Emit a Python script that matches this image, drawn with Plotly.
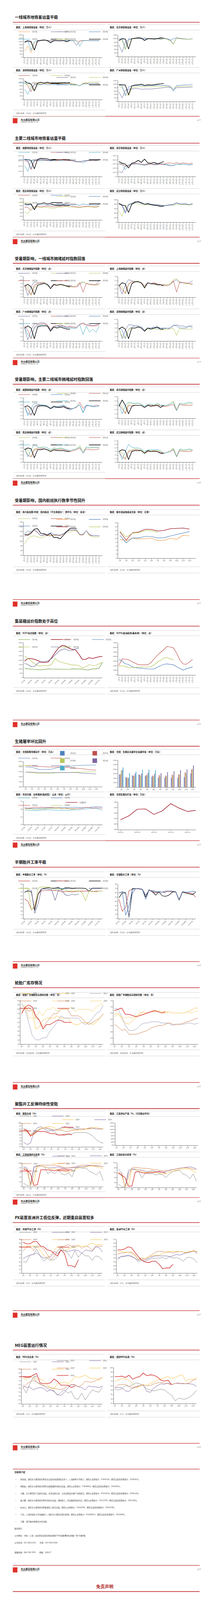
import plotly.graph_objects as go

W, H = 550, 4333
FONT = "Noto Sans CJK SC"

GRAY = "#8c8c8c"; PURP = "#8064a2"; SLATE = "#6b6f9a"; BLUE = "#4f81bd"; TEAL = "#4bacc6"
RED = "#c0504d"; DRED = "#a01c2c"; YG = "#b5c95a"; ORG = "#f0a050"; YEL = "#f5c242"
BRN = "#d08050"; BLK = "#000000"; BRED = "#d02020"; GRN = "#70a040"

DAY_TICKS = ["1月1日", "1月16日", "1月31日", "2月15日", "3月2日", "3月17日", "4月1日", "4月16日",
             "5月1日", "5月16日", "5月31日", "6月15日", "6月30日", "7月15日", "7月30日", "8月14日",
             "8月29日", "9月13日", "9月28日", "10月13日", "10月28日", "11月12日", "11月27日", "12月12日"]
MONTHS = ["1月", "2月", "3月", "4月", "5月", "6月", "7月", "8月", "9月", "10月", "11月", "12月"]
HOG_TICKS = ["2024-03", "2024-06", "2024-09", "2024-12", "2025-03", "2025-06", "2025-09", "2025-12", "2026-03", "2026-06"]

# ---- page 17: first-tier subway ----
sh23 = [400, 720, 300, 900, 1000, 1050, 1050, 1080, 1040, 1060, 1050, 1040, 1060, 1050, 1060, 1050, 1040, 980, 1060, 1050, 1060, 1050, 1040, 1050]
sh24 = [950, 1000, 950, 480, 1000, 1050, 1080, 1080, 1050, 1060, 1050, 1050, 1060, 1050, 1060, 1040, 750, 1050, 1060, 1070, 1060, 1050, 1060, 1050]
sh25 = [1000, 1050, 450, 1000, 1050, 1060, 1080, 1070, 950, 1050, 1050, 1040, 1060, 1050, 1050, 1060, 1050, 700, 1050, 1060, 1050, 1060, 1050, 1060]
sh26 = [950, 1050, 1000, 450, 1050, 1080, 1100, 1050, 920, 1050, 1040, 1040, 1060, 980, 1080]
bj23 = [650, 250, 800, 950, 1000, 1000, 1020, 1000, 1050, 1000, 980, 1000, 1000, 950, 1000, 1000, 950, 700, 1050, 1020, 1000, 980, 970, 1000]
bj24 = [1000, 1000, 400, 980, 1000, 1000, 1030, 1000, 980, 1000, 1000, 1000, 1020, 1000, 1040, 1000, 900, 1000, 1040, 1000, 980, 980, 960, 1000]
bj25 = [950, 900, 380, 850, 1000, 1000, 1040, 1050, 900, 1000, 1000, 980, 1000, 1000, 1020, 950, 880, 680, 1030, 1000, 990, 980, 960, 1000]
bj26 = [900, 1000, 980, 420, 1000, 1020, 1050, 1030, 900, 1000, 1000, 980, 1000, 1050, 1030]
sz23 = [600, 300, 700, 850, 850, 850, 900, 850, 850, 860, 850, 870, 880, 850, 860, 880, 850, 800, 900, 900, 920, 930, 940, 950]
sz24 = [1000, 800, 450, 900, 900, 880, 900, 920, 900, 920, 900, 900, 920, 930, 920, 900, 850, 800, 930, 940, 920, 930, 920, 900]
sz25 = [950, 900, 700, 500, 900, 930, 950, 960, 930, 940, 930, 920, 940, 950, 930, 900, 880, 780, 960, 980, 1000, 1020, 1000, 1050]
sz26 = [1080, 950, 900, 500, 950, 1000, 950, 1000, 950, 920, 920, 950, 980, 950, 980]
gz23 = [550, 200, 650, 700, 720, 750, 750, 700, 720, 720, 720, 740, 760, 780, 800, 820, 820, 680, 800, 800, 810, 820, 820, 840]
gz24 = [850, 800, 450, 320, 800, 830, 850, 860, 840, 860, 850, 860, 880, 870, 880, 880, 860, 750, 860, 870, 880, 880, 880, 900]
gz25 = [950, 900, 320, 850, 900, 920, 930, 930, 900, 930, 920, 930, 950, 940, 940, 930, 880, 600, 920, 940, 950, 960, 960, 1000]
gz26 = [980, 960, 950, 380, 900, 950, 960, 1000, 930, 960, 950, 960, 1000, 1020, 1050]

# ---- page 18: second-tier subway ----
cd23 = [420, 200, 600, 620, 610, 600, 620, 610, 600, 610, 620, 600, 610, 620, 610, 600, 560, 580, 520, 600, 610, 620, 610, 630]
cd24 = [600, 580, 270, 600, 620, 640, 630, 620, 610, 630, 620, 640, 630, 620, 610, 600, 570, 560, 590, 610, 620, 630, 620, 640]
cd25 = [640, 620, 300, 630, 640, 660, 650, 640, 620, 640, 650, 640, 650, 640, 630, 620, 580, 570, 600, 620, 640, 650, 640, 660]
cd26 = [660, 650, 620, 300, 660, 700, 690, 680, 640, 660, 650, 640, 660, 650, 640]
nj23 = [120, 100, 260, 280, 300, 300, 310, 290, 270, 290, 300, 280, 290, 300, 290, 280, 260, 270, 300, 290, 300, 290, 280, 300]
nj24 = [300, 290, 170, 280, 300, 310, 300, 290, 280, 300, 300, 290, 300, 310, 300, 290, 280, 260, 300, 290, 300, 290, 280, 290]
nj25 = [310, 300, 250, 260, 300, 320, 310, 300, 290, 310, 300, 300, 310, 300, 300, 320, 330, 310, 340, 310, 330, 320, 310, 330]
nj26 = [360, 320, 300, 210, 320, 340, 390, 340, 420, 330, 320, 340, 310, 330, 360]
xa23 = [230, 170, 340, 350, 360, 350, 360, 350, 340, 330, 350, 360, 370, 380, 370, 360, 350, 340, 360, 370, 370, 360, 350, 380]
xa24 = [360, 350, 270, 380, 380, 370, 380, 390, 380, 370, 380, 380, 390, 380, 370, 380, 370, 360, 380, 380, 380, 370, 370, 390]
xa25 = [420, 410, 430, 280, 420, 430, 430, 420, 420, 420, 430, 420, 430, 430, 420, 420, 430, 410, 450, 430, 420, 420, 410, 440]
xa26 = [450, 440, 450, 290, 450, 460, 480, 450, 460, 420, 410, 410, 420, 400, 420]
wh23 = [240, 130, 350, 390, 400, 420, 410, 390, 380, 400, 390, 380, 390, 380, 370, 380, 390, 370, 400, 400, 390, 390, 380, 400]
wh24 = [420, 360, 200, 380, 410, 450, 440, 420, 400, 420, 400, 390, 380, 370, 360, 370, 380, 390, 420, 410, 400, 400, 390, 410]
wh25 = [400, 390, 220, 400, 420, 460, 450, 440, 400, 410, 400, 390, 390, 380, 370, 380, 390, 400, 440, 400, 410, 410, 390, 420]
wh26 = [420, 380, 370, 220, 400, 440, 460, 430, 400, 410, 390, 380, 370, 350, 360]

# ---- page 19: first-tier congestion ----
bjc23 = [1.7, 1.1, 1.6, 1.9, 1.85, 1.8, 1.85, 1.75, 1.6, 1.75, 1.7, 1.75, 1.7, 1.65, 1.7, 1.6, 1.6, 1.75, 1.9, 1.8, 1.75, 1.7, 1.75, 2.0]
bjc24 = [1.7, 1.6, 1.1, 1.6, 1.8, 1.85, 1.9, 1.7, 1.5, 1.75, 1.7, 1.7, 1.75, 1.6, 1.6, 1.6, 1.7, 1.85, 1.9, 1.8, 1.75, 1.7, 1.75, 1.7]
bjc25 = [1.7, 1.4, 1.15, 1.7, 1.8, 1.85, 1.8, 1.75, 1.5, 1.7, 1.7, 1.75, 1.7, 1.65, 1.65, 1.6, 1.6, 1.85, 1.3, 1.8, 1.75, 1.75, 1.7, 1.8]
bjc26 = [1.65, 1.75, 1.6, 1.15, 1.7, 1.75, 1.8, 1.75, 1.5, 1.75, 1.7, 1.75, 1.7, 1.65, 1.6]
shc23 = [1.55, 1.15, 1.6, 1.85, 1.8, 1.75, 1.75, 1.7, 1.55, 1.7, 1.65, 1.7, 1.65, 1.6, 1.6, 1.6, 1.65, 1.75, 1.85, 1.7, 1.7, 1.65, 1.7, 1.8]
shc24 = [1.6, 1.5, 1.15, 1.6, 1.75, 1.75, 1.8, 1.65, 1.5, 1.7, 1.65, 1.65, 1.65, 1.6, 1.6, 1.6, 1.65, 1.85, 1.9, 1.75, 1.7, 1.65, 1.65, 1.6]
shc25 = [1.6, 1.35, 1.2, 1.65, 1.75, 1.75, 1.75, 1.7, 1.55, 1.7, 1.65, 1.7, 1.65, 1.6, 1.6, 1.55, 1.6, 1.8, 1.25, 1.75, 1.7, 1.7, 1.65, 1.65]
shc26 = [1.55, 1.7, 1.65, 1.15, 1.65, 1.75, 1.75, 1.7, 1.45, 1.7, 1.65, 1.65, 1.6, 1.6, 1.55]
gzc23 = [1.6, 1.05, 1.5, 1.8, 1.8, 1.85, 1.85, 1.75, 1.55, 1.7, 1.7, 1.75, 1.7, 1.65, 1.65, 1.6, 1.6, 1.75, 1.85, 1.75, 1.75, 1.7, 1.75, 1.8]
gzc24 = [1.7, 1.5, 1.1, 1.65, 1.75, 1.8, 1.8, 1.75, 1.5, 1.7, 1.7, 1.7, 1.7, 1.6, 1.7, 1.65, 1.65, 1.8, 1.8, 1.75, 1.7, 1.7, 1.7, 1.75]
gzc25 = [1.65, 1.3, 1.15, 1.6, 1.7, 1.75, 1.75, 1.7, 1.5, 1.65, 1.65, 1.7, 1.65, 1.6, 1.6, 1.6, 1.6, 1.75, 1.3, 1.7, 1.4, 1.55, 1.4, 1.7]
gzc26 = [1.6, 1.7, 1.6, 1.1, 1.65, 1.7, 1.7, 1.7, 1.45, 1.65, 1.6, 1.65, 1.6, 1.55, 1.55]
szc23 = [1.6, 1.1, 1.5, 1.75, 1.75, 1.7, 1.7, 1.65, 1.5, 1.6, 1.6, 1.65, 1.65, 1.6, 1.6, 1.55, 1.6, 1.7, 1.75, 1.7, 1.7, 1.65, 1.7, 1.7]
szc24 = [1.6, 1.5, 1.1, 1.55, 1.65, 1.7, 1.7, 1.65, 1.5, 1.6, 1.6, 1.6, 1.6, 1.55, 1.6, 1.6, 1.6, 1.75, 1.7, 1.6, 1.6, 1.6, 1.7, 1.6]
szc25 = [1.55, 1.2, 1.15, 1.55, 1.6, 1.6, 1.65, 1.6, 1.45, 1.55, 1.55, 1.55, 1.55, 1.5, 1.55, 1.55, 1.55, 1.6, 1.25, 1.6, 1.55, 1.55, 1.55, 1.55]
szc26 = [1.55, 1.65, 1.55, 1.1, 1.6, 1.6, 1.65, 1.6, 1.45, 1.6, 1.55, 1.6, 1.65, 1.55, 1.55]

# ---- page 20: second-tier congestion ----
cdc23 = [1.7, 1.2, 1.6, 1.9, 1.85, 1.8, 1.8, 1.75, 1.6, 1.75, 1.7, 1.75, 1.8, 1.7, 1.55, 1.6, 1.7, 1.8, 1.4, 1.8, 1.75, 1.75, 1.7, 1.75]
cdc24 = [1.7, 1.6, 1.2, 1.7, 1.8, 1.8, 1.8, 1.75, 1.6, 1.7, 1.7, 1.7, 1.75, 1.65, 1.6, 1.6, 1.65, 1.95, 1.6, 1.75, 1.75, 1.7, 1.8, 1.75]
cdc25 = [1.7, 1.3, 1.25, 1.7, 1.75, 1.8, 1.75, 1.75, 1.55, 1.7, 1.7, 1.7, 1.75, 1.6, 1.5, 1.6, 1.7, 1.8, 1.35, 1.75, 1.75, 1.7, 1.7, 1.75]
cdc26 = [1.7, 1.75, 1.6, 1.2, 1.7, 1.75, 1.75, 1.7, 1.6, 1.7, 1.65, 1.65, 1.7, 1.6, 1.6]
njc23 = [1.7, 1.2, 1.6, 1.75, 1.7, 1.7, 1.7, 1.65, 1.55, 1.65, 1.65, 1.6, 1.7, 1.6, 1.6, 1.6, 1.65, 1.75, 1.35, 1.7, 1.65, 1.7, 1.75, 1.7]
njc24 = [1.65, 1.55, 1.25, 1.7, 1.7, 1.65, 1.7, 1.65, 1.55, 1.65, 1.6, 1.6, 1.65, 1.6, 1.55, 1.6, 1.7, 1.8, 1.4, 1.7, 1.65, 1.65, 1.7, 1.65]
njc25 = [1.6, 1.45, 1.2, 1.6, 1.6, 1.6, 1.6, 1.6, 1.5, 1.6, 1.6, 1.55, 1.6, 1.6, 1.55, 1.55, 1.6, 1.65, 1.35, 1.65, 1.6, 1.6, 1.6, 1.6]
njc26 = [1.55, 1.85, 1.6, 1.2, 1.55, 1.6, 1.6, 1.6, 1.5, 1.6, 1.55, 1.6, 1.6, 1.5, 1.6]
xac23 = [1.8, 1.3, 1.7, 2.0, 1.85, 1.8, 1.85, 1.8, 1.7, 1.8, 1.75, 1.8, 1.75, 1.7, 1.65, 1.7, 1.75, 1.85, 1.5, 1.85, 1.8, 1.85, 1.8, 1.85]
xac24 = [1.75, 1.7, 1.3, 1.75, 1.8, 1.85, 1.85, 1.8, 1.65, 1.75, 1.75, 1.75, 1.75, 1.7, 1.65, 1.7, 1.75, 1.95, 1.6, 1.85, 1.8, 1.8, 1.85, 1.8]
xac25 = [1.75, 1.4, 1.3, 1.7, 1.75, 1.75, 1.75, 1.7, 1.6, 1.7, 1.7, 1.7, 1.7, 1.65, 1.6, 1.65, 1.7, 1.8, 1.5, 1.75, 1.7, 1.7, 1.7, 1.75]
xac26 = [1.7, 1.8, 1.75, 1.25, 1.7, 1.7, 1.75, 1.7, 1.6, 1.7, 1.65, 1.65, 1.65, 1.6, 1.6]
whc23 = [1.6, 1.15, 1.6, 2.0, 1.85, 1.8, 1.8, 1.75, 1.6, 1.7, 1.7, 1.7, 1.7, 1.65, 1.5, 1.55, 1.6, 1.75, 1.3, 1.75, 1.7, 1.7, 1.75, 1.7]
whc24 = [1.6, 1.55, 1.15, 1.65, 1.7, 1.75, 1.7, 1.7, 1.55, 1.65, 1.65, 1.65, 1.65, 1.6, 1.5, 1.55, 1.65, 1.8, 1.35, 1.7, 1.65, 1.65, 1.7, 1.65]
whc25 = [1.6, 1.3, 1.2, 1.6, 1.65, 1.7, 1.7, 1.65, 1.5, 1.6, 1.6, 1.65, 1.6, 1.55, 1.5, 1.55, 1.6, 1.7, 1.3, 1.65, 1.6, 1.6, 1.6, 1.65]
whc26 = [1.6, 1.7, 1.65, 1.15, 1.6, 1.65, 1.65, 1.65, 1.5, 1.65, 1.6, 1.6, 1.6, 1.5, 1.5]

# ---- page 21: flights, express ----
fl23 = [8700, 11000, 12000, 12200, 11800, 11300, 11800, 12300, 12500, 12200, 12400, 12300, 13000, 13800, 13700, 14200, 14300, 12500, 12700, 14300, 12200, 11800, 11600, 11900]
fl24 = [12000, 13000, 13800, 14500, 13500, 12200, 12500, 12300, 12200, 12600, 12500, 12300, 13000, 14000, 14500, 14600, 14500, 12600, 12500, 14400, 12500, 12200, 12300, 12200]
fl25 = [12800, 14300, 13800, 14700, 13800, 12200, 12700, 12600, 13700, 12800, 12700, 12500, 13200, 14200, 14600, 14800, 14700, 12800, 12900, 14300, 12800, 12300, 12200, 12300]
fl26 = [12700, 12500, 13300, 15000, 15200, 13200, 13100, 12500, 13200, 11500, 11500, 11000, 12500, 14000, 15300, 15400, 15300]
sf23 = [9.6, 8.9, 10.2, 9.8, 9.9, 10.2, 8.9, 9.1, 10.1, 9.6, 11.7, 11.3]
sf24 = [11.5, 7.8, 10.3, 10.3, 11.1, 11.0, 10.3, 10.4, 11.3, 12.0, 12.7, 13.5]
sf25 = [13.3, 9.2, 12.9, 13.3, 14.7, 14.6, 13.8, 14.1, 15.0, 15.2, 15.3, 14.8]
sf26 = [13.8, 10.7, 12.7, 13.0, 14.1, 13.9, 13.2]

# ---- page 22: freight ----
scfi23 = [1050, 1000, 980, 950, 900, 900, 950, 1000, 980, 970, 980, 950, 940, 950, 1000, 1000, 990, 980, 900, 880, 1000, 1000, 1100, 1800]
scfi24 = [1900, 2200, 2180, 2100, 1950, 1750, 1750, 1800, 2300, 2900, 3400, 3700, 3650, 3400, 3250, 3200, 2700, 2100, 2100, 2300, 2200, 2300, 2400, 2450]
scfi25 = [2500, 2200, 1900, 1600, 1350, 1350, 1400, 1350, 1550, 2200, 1850, 1750, 1650, 1550, 1450, 1450, 1400, 1100, 1250, 1500, 1400, 1400, 1600, 1750]
scfi26 = [1650, 1500, 1250, 1300, 1700, 1850, 1850, 1950, 2200, 2600, 3000, 3250, 3300, 3100, 3100, 3300, 3400]
eu24 = [2100, 3500, 3450, 3300, 2900, 2600, 2250, 2200, 2200, 2200, 2700, 3500, 4300, 4900, 5500, 6200, 6100, 5900, 4800, 3300, 2400, 2300, 2800, 3400]
eu25 = [3400, 3000, 2400, 2300, 1800, 1600, 1500, 1450, 1400, 1300, 1250, 1300, 1700, 2000, 2300, 2400, 2300, 2200, 1800, 1400, 1050, 1300, 1500, 1750]
eu26 = [1900, 2000, 1800, 1600, 1550, 1600, 1700, 1750, 1700, 1700, 1800, 2200, 2800, 3200, 3700, 3800, 3500, 3250]

# ---- page 23: hogs ----
sow22 = [4290, 4270, 4190, 4180, 4190, 4260, 4280, 4310, 4340, 4350, 4360, 4360]
sow23 = [4340, 4320, 4300, 4290, 4280, 4290, 4280, 4250, 4230, 4210, 4170, 4160]
sow24 = [4080, 4060, 4030, 4030, 4030, 4060, 4060, 4070, 4080, 4080, 4090, 4090]
sow25 = [4080, 4080, 4060, 4060, 4060, 4070, 4060, 4060, 4060, 4030, 4020, 4010]
sl22 = [2850, 2230, 2620, 2820, 2500, 2350, 2100, 2150, 2100, 2080, 2230, 3050]
sl23 = [2900, 2200, 2600, 2800, 2750, 2600, 2700, 2600, 2800, 2850, 3300, 3950]
sl24 = [3700, 2050, 2500, 2550, 2650, 2450, 2450, 2450, 2650, 2850, 3200, 4100]
sl25 = [3800, 2100, 3000, 3050, 3200, 3000, 3150, 3350, 3550, 3800, 3950, 4850]
sl26 = [4400, 3150, 3450, 3900, 3900, 3800]
cw23 = [85.5, 85.2, 85.0, 85.0, 85.0, 85.3, 85.5, 85.5, 85.5, 85.3, 85.3, 85.2, 85.2, 85.0, 85.5, 85.5, 85.5, 85.8, 86.0, 86.2, 86.5, 86.5, 85.8, 85.2]
cw24 = [86.8, 86.5, 86.3, 86.3, 86.3, 86.5, 86.5, 86.8, 86.6, 86.5, 86.8, 87.0, 87.0, 87.0, 87.0, 87.2, 87.0, 86.8, 87.0, 87.0, 87.3, 87.5, 87.5, 87.2]
cw25 = [86.5, 86.5, 86.8, 87.2, 87.0, 87.2, 87.0, 87.0, 87.0, 86.8, 86.8, 86.2, 86.5, 86.3, 86.2, 86.3, 86.3, 86.5, 87.0, 87.0, 86.5, 86.8, 86.7, 86.5]
cw26 = [86.3, 86.2, 86.0, 85.8, 85.8, 86.0, 86.0, 86.3, 86.5, 86.5, 86.5, 86.5, 86.3, 86.0, 86.0, 86.0]
hog = [40800, 41500, 42700, 42750, 41750, 42400, 43700, 42900, 42300, 42500]

# ---- page 24: tire operating rates ----
semi23 = [52, 45, 24, 30, 65, 73, 74, 74, 74, 74, 73, 70, 71, 71, 70, 71, 72, 72, 72, 72, 71, 72, 72, 72]
semi24 = [70, 72, 70, 22, 65, 78, 80, 81, 80, 80, 82, 76, 81, 81, 79, 80, 80, 80, 79, 72, 80, 80, 80, 80]
semi25 = [80, 80, 22, 35, 80, 83, 83, 83, 80, 75, 78, 78, 75, 72, 73, 72, 73, 68, 47, 72, 72, 70, 72, 72]
semi26 = [68, 75, 74, 14, 40, 78, 78, 77, 76, 48, 75, 74, 62, 61, 64, 62, 65]
full23 = [45, 17, 27, 65, 69, 70, 69, 68, 50, 67, 62, 60, 62, 62, 63, 63, 63, 62, 45, 62, 60, 60, 58, 50]
full24 = [49, 60, 60, 3, 70, 70, 70, 68, 50, 67, 63, 55, 62, 53, 52, 55, 62, 63, 43, 62, 60, 58, 56, 62]
full25 = [60, 62, 8, 30, 68, 70, 70, 68, 45, 66, 64, 62, 62, 62, 64, 65, 64, 63, 44, 63, 62, 62, 64, 63]
full26 = [60, 63, 61, 4, 60, 70, 70, 69, 55, 66, 66, 63, 63, 62, 60]

# ---- page 25: tire inventory days ----
fi22 = [45, 46, 47, 45, 37, 38, 41, 42, 42, 42, 43, 42, 42, 42, 40, 39, 39, 40, 40, 40, 39, 40, 42, 44]
fi23 = [49, 46, 40, 34, 32, 32, 33, 33, 36, 38, 40, 43, 42, 42, 42, 42, 42, 40, 39, 40, 42, 44, 45, 48]
fi24 = [44, 47, 45, 46, 42, 41, 38, 40, 42, 44, 44, 46, 46, 46, 43, 43, 43, 42, 40, 39, 40, 41, 42, 44]
fi25 = [47, 48, 42, 42, 42, 45, 43, 46, 46, 47, 45, 46, 46, 46, 47, 45, 46, 46, 46, 46, 45, 47, 48, 49]
fi26 = [44, 47, 48, 47, 43, 41, 37, 39, 39, 40, 41, 41, 40, 40, 40]
si22 = [44, 45, 40, 37, 36, 39, 42, 45, 46, 45, 46, 46, 47, 46, 45, 46, 45, 45, 45, 45, 46, 47, 49, 49]
si23 = [49, 48, 42, 35, 31, 31, 32, 35, 37, 37, 38, 38, 38, 37, 37, 37, 35, 36, 36, 36, 37, 37, 36, 37]
si24 = [36, 34, 31, 32, 28, 28, 28, 29, 30, 31, 33, 34, 35, 35, 36, 37, 36, 36, 36, 37, 38, 39, 40, 41]
si25 = [42, 44, 42, 41, 42, 41, 43, 44, 46, 45, 46, 46, 47, 46, 46, 46, 45, 45, 45, 45, 46, 45, 46, 47]
si26 = [47, 48, 49, 44, 44, 43, 42, 43, 44, 45, 46, 47, 46, 45, 46]

# ---- page 26: polyester ----
pl22 = [88, 86, 80, 84, 86, 90, 92, 90, 88, 85, 80, 80, 82, 80, 82, 84, 84, 84, 84, 82, 78, 72, 68, 66]
pl23 = [68, 64, 66, 85, 92, 94, 90, 86, 88, 88, 90, 92, 94, 92, 92, 90, 90, 90, 90, 91, 91, 90, 90, 90]
pl24 = [90, 88, 80, 85, 88, 90, 92, 92, 90, 88, 88, 88, 86, 86, 88, 88, 90, 90, 90, 92, 92, 92, 91, 90]
pl25 = [88, 85, 80, 80, 88, 92, 92, 94, 94, 92, 88, 90, 92, 90, 90, 88, 88, 88, 90, 90, 92, 92, 91, 90]
pl26 = [90, 88, 78, 82, 86, 86, 86, 84, 82, 82, 80, 80, 80, 82, 80]
ys24 = [80, 60, 110, 30, 55, 80, 60, 70, 100, 60, 75, 90, 70, 60, 50, 110, 45, 40, 60, 70, 110, 60, 120, 50]
ys25 = [60, 40, 20, 15, 60, 90, 50, 110, 40, 60, 100, 50, 35, 60, 80, 40, 60, 110, 40, 90, 115, 60, 60, 75]
ys26 = [35, 50, 30, 115, 60, 20, 55, 60, 40, 95, 50, 70, 120, 60, 85, 90]
tx22 = [15, 5, 5, 80, 90, 88, 85, 55, 65, 55, 70, 55, 50, 60, 42, 80, 82, 78, 80, 65, 60, 50, 65, 25]
tx23 = [85, 80, 10, 85, 90, 88, 85, 80, 80, 82, 85, 80, 80, 80, 80, 82, 85, 85, 88, 90, 90, 88, 88, 85]
tx24 = [80, 75, 5, 50, 90, 92, 92, 92, 92, 92, 90, 85, 80, 80, 82, 85, 90, 92, 92, 92, 90, 90, 88, 85]
tx25 = [75, 70, 10, 15, 85, 88, 85, 80, 72, 78, 72, 68, 65, 62, 65, 75, 80, 82, 85, 88, 88, 85, 82, 78]
tx26 = [75, 70, 55, 5, 8, 72, 72, 72, 70, 68, 72, 75, 75, 72, 72]
wv22 = [15, 2, 2, 70, 75, 72, 65, 38, 60, 55, 58, 50, 55, 52, 40, 55, 65, 68, 70, 55, 50, 35, 55, 25]
wv23 = [75, 60, 2, 60, 75, 75, 72, 70, 65, 65, 68, 65, 62, 62, 65, 70, 72, 75, 78, 80, 82, 84, 80, 76]
wv24 = [62, 55, 2, 40, 80, 82, 80, 78, 78, 76, 75, 72, 70, 68, 68, 68, 72, 75, 78, 80, 80, 78, 74, 72]
wv25 = [60, 50, 5, 10, 70, 75, 72, 65, 60, 62, 65, 60, 58, 55, 56, 62, 65, 70, 72, 75, 76, 74, 66, 60]
wv26 = [58, 50, 40, 5, 5, 62, 65, 60, 58, 60, 60, 62, 65, 62, 58]

# ---- page 27: PX ----
cpx22 = [65, 65, 74, 75, 82, 72, 66, 70, 67, 68, 72, 86, 80, 76, 70, 80, 71, 77, 73, 73, 67, 73, 72, 67]
cpx23 = [69, 72, 74, 75, 77, 73, 70, 71, 72, 79, 76, 80, 80, 79, 80, 81, 80, 76, 81, 80, 79, 85, 84, 78]
cpx24 = [79, 85, 86, 80, 85, 85, 82, 75, 68, 72, 80, 85, 86, 88, 86, 86, 87, 83, 86, 85, 80, 86, 86, 86]
cpx25 = [86, 86, 86, 86, 86, 80, 74, 70, 75, 80, 86, 84, 80, 82, 84, 84, 86, 86, 85, 88, 90, 88, 88, 88]
cpx26 = [91, 89, 89, 92, 92, 86, 85, 81, 80, 76, 73, 81, 76, 60, 60, 58, 68]
apx22 = [68, 72, 72, 73, 73, 70, 65, 68, 66, 68, 70, 70, 70, 71, 69, 72, 70, 71, 69, 66, 71, 71, 69, 64]
apx23 = [70, 72, 73, 74, 72, 70, 67, 70, 68, 70, 72, 73, 73, 73, 73, 72, 73, 75, 74, 76, 77, 78, 80, 76]
apx24 = [75, 77, 77, 78, 78, 75, 68, 70, 68, 72, 75, 78, 79, 79, 78, 78, 77, 78, 79, 78, 77, 79, 79, 78]
apx25 = [79, 79, 78, 78, 77, 74, 68, 70, 70, 72, 73, 74, 74, 76, 78, 79, 79, 79, 79, 78, 78, 79, 80, 79]
apx26 = [81, 81, 82, 85, 84, 78, 72, 67, 65, 64, 66, 66, 62, 56, 57, 57, 62]

# ---- page 28: MEG ----
mg22 = [62, 54, 65, 74, 68, 66, 63, 60, 58, 57, 51, 55, 58, 54, 56, 47, 46, 54, 45, 52, 58, 56, 55, 62]
mg23 = [64, 61, 62, 58, 60, 61, 60, 56, 58, 56, 52, 51, 55, 60, 65, 64, 62, 61, 58, 63, 62, 62, 61, 63]
mg24 = [60, 65, 68, 70, 68, 65, 64, 62, 61, 60, 59, 58, 60, 63, 65, 65, 62, 64, 69, 68, 68, 70, 72, 74]
mg25 = [73, 71, 76, 73, 72, 72, 70, 66, 60, 59, 66, 67, 68, 66, 69, 75, 74, 75, 77, 74, 72, 73, 70, 75]
mg26 = [75, 74, 74, 77, 79, 67, 66, 66, 67, 72, 69, 64, 64, 64, 61, 63]
cm22 = [52, 50, 53, 60, 58, 62, 66, 64, 60, 53, 50, 48, 50, 52, 50, 44, 38, 26, 32, 30, 30, 34, 40, 50]
cm23 = [55, 56, 55, 48, 47, 55, 58, 60, 62, 47, 45, 55, 60, 64, 63, 66, 62, 65, 66, 64, 64, 64, 63, 58]
cm24 = [55, 62, 62, 63, 58, 54, 56, 60, 62, 60, 60, 64, 66, 67, 66, 64, 62, 65, 64, 65, 64, 66, 72, 74]
cm25 = [70, 72, 76, 74, 72, 64, 55, 58, 62, 60, 65, 68, 72, 75, 78, 80, 76, 78, 82, 84, 70, 74, 73, 78]
cm26 = [80, 80, 81, 78, 83, 74, 78, 80, 88, 82, 84, 83, 79, 72, 70, 72, 62]

fig = go.Figure()
shapes, annos = [], []
legends = {}
axes = {}
n_panel = [0]


def fx(px):
    return px / W


def fy(py):
    return 1 - py / H


def text(x, y, s, size=6, color="#222", bold=False, xanchor="left", family=FONT):
    if bold:
        s = "<b>" + s + "</b>"
    annos.append(dict(x=fx(x), y=fy(y), xref="paper", yref="paper", text=s, showarrow=False,
                      xanchor=xanchor, yanchor="middle", font=dict(size=size, color=color, family=family)))


def hline(y, x0=17, x1=502, color="#c9c9c9", width=0.8):
    shapes.append(dict(type="line", xref="paper", yref="paper", x0=fx(x0), x1=fx(x1), y0=fy(y), y1=fy(y),
                       line=dict(color=color, width=width)))


def panel(x0, x1, y0, y1, series, yr, dtick, ticks, tickvals=None, angle=-90, bars=False, leg_x=None, fmt=None):
    n_panel[0] += 1
    k = n_panel[0]
    sfx = "" if k == 1 else str(k)
    leg = "legend" + sfx
    for name, vals, col, wd in series:
        xs = list(range(len(vals)))
        if bars:
            fig.add_trace(go.Bar(x=xs, y=vals, name=name, marker_color=col, xaxis="x" + sfx, yaxis="y" + sfx,
                                 legend=leg))
        else:
            fig.add_trace(go.Scatter(x=xs, y=vals, name=name, mode="lines", line=dict(color=col, width=wd),
                                     xaxis="x" + sfx, yaxis="y" + sfx, legend=leg))
    tv = tickvals if tickvals is not None else list(range(len(ticks)))
    axes["xaxis" + sfx] = dict(domain=[fx(x0), fx(x1)], anchor="y" + sfx, tickvals=tv, ticktext=ticks,
                               tickangle=angle, tickfont=dict(size=4, color="#555"), showgrid=False,
                               showline=True, linecolor="#777", linewidth=0.6, ticks="outside", ticklen=2,
                               tickcolor="#777", zeroline=False,
                               range=[-0.5, len(ticks) - 0.5] if bars else [-0.3, max(tv) + 1])
    axes["yaxis" + sfx] = dict(domain=[fy(y1), fy(y0)], anchor="x" + sfx, range=yr, dtick=dtick,
                               tick0=yr[0], tickfont=dict(size=4, color="#555"), showgrid=False,
                               showline=True, linecolor="#777", linewidth=0.6, ticks="outside", ticklen=2,
                               tickcolor="#777", zeroline=False, tickformat=fmt)
    legends[leg] = dict(x=fx(leg_x if leg_x else x0 + 20), y=fy(y0 + 1), xanchor="left", yanchor="middle",
                        orientation="h", bgcolor="rgba(0,0,0,0)", font=dict(size=4.5, color="#555", family=FONT),
                        itemwidth=30, tracegroupgap=0, entrywidth=38)


LX = (45, 250)
RX = (290, 492)
y4 = ["2023年", "2024年", "2025年", "2026年"]

# page 17
panel(*LX, 78, 135, [("2023年", sh23, ORG, 1), ("2024年", sh24, PURP, 1), ("2025年", sh25, TEAL, 1), ("2026年", sh26, BLK, 1.4)], [0, 1400], 200, DAY_TICKS)
panel(*RX, 78, 133, [("2023年", bj23, SLATE, 1), ("2024年", bj24, BLUE, 1), ("2025年", bj25, YG, 1), ("2026年", bj26, BLK, 1.4)], [0, 1200], 200, DAY_TICKS)
panel(*LX, 190, 243, [("2024年", sz24, RED, 1), ("2025年", sz25, YG, 1), ("2023年", sz23, TEAL, 1), ("2026年", sz26, BLK, 1.4)], [0, 1200], 200, DAY_TICKS)
panel(*RX, 195, 248, [("2023年", gz23, SLATE, 1), ("2024年", gz24, YG, 1), ("2025年", gz25, BLUE, 1), ("2026年", gz26, BLK, 1.4)], [0, 1200], 200, DAY_TICKS)
# page 18
panel(*LX, 387, 441, [("2023年", cd23, TEAL, 1), ("2024年", cd24, RED, 1), ("2025年", cd25, BLUE, 1), ("2026年", cd26, BLK, 1.4)], [1, 801], 200, DAY_TICKS, fmt=".1f")
panel(*RX, 387, 441, [("2023年", nj23, SLATE, 1), ("2024年", nj24, TEAL, 1), ("2025年", nj25, RED, 1), ("2026年", nj26, BLK, 1.4)], [1, 501], 100, DAY_TICKS, fmt=".1f")
panel(*LX, 497, 552, [("2024年", xa24, RED, 1), ("2025年", xa25, BLUE, 1), ("2023年", xa23, YG, 1), ("2026年", xa26, BLK, 1.4)], [0, 600], 100, DAY_TICKS)
panel(*RX, 500, 558, [("2023年", wh23, YG, 1), ("2024年", wh24, BLUE, 1), ("2025年", wh25, SLATE, 1), ("2026年", wh26, BLK, 1.4)], [0, 500], 100, DAY_TICKS)
# page 19
panel(*LX, 697, 750, [("2023年", bjc23, SLATE, 1), ("2024年", bjc24, YG, 1), ("2025年", bjc25, RED, 1), ("2026年", bjc26, BLK, 1.4)], [1.0, 2.2], 0.2, DAY_TICKS, fmt=".1f")
panel(*RX, 697, 750, [("2023年", shc23, SLATE, 1), ("2024年", shc24, YG, 1), ("2025年", shc25, RED, 1), ("2026年", shc26, BLK, 1.4)], [1.0, 2.0], 0.2, DAY_TICKS, fmt=".1f")
panel(*LX, 807, 862, [("2023年", gzc23, SLATE, 1), ("2024年", gzc24, RED, 1), ("2025年", gzc25, TEAL, 1), ("2026年", gzc26, BLK, 1.4)], [1.0, 2.0], 0.2, DAY_TICKS, fmt=".1f")
panel(*RX, 807, 862, [("2023年", szc23, SLATE, 1), ("2024年", szc24, BLUE, 1), ("2025年", szc25, YG, 1), ("2026年", szc26, BLK, 1.4)], [1.0, 2.0], 0.2, DAY_TICKS, fmt=".1f")
# page 20
panel(*LX, 1008, 1062, [("2024年", cdc24, RED, 1), ("2025年", cdc25, BLUE, 1), ("2023年", cdc23, TEAL, 1), ("2026年", cdc26, BLK, 1.4)], [1.0, 2.2], 0.2, DAY_TICKS, fmt=".1f")
panel(*RX, 1005, 1060, [("2024年", njc24, YG, 1), ("2025年", njc25, RED, 1), ("2023年", njc23, TEAL, 1), ("2026年", njc26, BLK, 1.4)], [1.0, 2.0], 0.2, DAY_TICKS, fmt=".1f")
panel(*LX, 1118, 1173, [("2024年", xac24, YG, 1), ("2025年", xac25, RED, 1), ("2023年", xac23, TEAL, 1), ("2026年", xac26, BLK, 1.4)], [1.0, 2.2], 0.2, DAY_TICKS, fmt=".1f")
panel(*RX, 1118, 1173, [("2024年", whc24, YG, 1), ("2025年", whc25, RED, 1), ("2023年", whc23, TEAL, 1), ("2026年", whc26, BLK, 1.4)], [1.0, 2.2], 0.2, DAY_TICKS, fmt=".1f")
# page 21
panel(*LX, 1326, 1412, [("2023年", fl23, YG, 1), ("2024年", fl24, RED, 1), ("2025年", fl25, BLUE, 1), ("2026年", fl26, BLK, 1.4)], [4000, 18000], 2000, DAY_TICKS)
panel(*RX, 1328, 1419, [("2023年", sf23, ORG, 1.2), ("2024年", sf24, BLUE, 1.2), ("2025年", sf25, DRED, 1.2), ("2026年", sf26, YG, 1.2)], [0, 18], 2, MONTHS, angle=0)
# page 22
panel(*LX, 1636, 1725, [("2023年", scfi23, GRN, 1.2), ("2024年", scfi24, DRED, 1.6), ("2025年", scfi25, YG, 1.2), ("2026年", scfi26, SLATE, 1.2)], [0, 4000], 500, DAY_TICKS[::2], tickvals=list(range(0, 24, 2)), angle=-45)
panel(*RX, 1636, 1718, [("2024年", eu24, RED, 1.2), ("2025年", eu25, BLUE, 1.2), ("2026年", eu26, YG, 1.2)], [0, 7000], 1000, DAY_TICKS, leg_x=330)
# page 23
panel(*LX, 1940, 2005, [("2022年", sow22, BLUE, 1), ("2023年", sow23, RED, 1), ("2024年", sow24, YG, 1), ("2025年", sow25, SLATE, 1)], [3500, 4500], 200, MONTHS, angle=0)
panel(*RX, 1937, 2006, [("2022年", sl22, BLUE, 0), ("2023年", sl23, RED, 0), ("2024年", sl24, YG, 0), ("2025年", sl25, PURP, 0), ("2026年", sl26, TEAL, 0)], [0, 6000], 1000, MONTHS, angle=0, bars=True)
panel(*LX, 2042, 2102, [("2023年", cw23, TEAL, 1), ("2024年", cw24, BLUE, 1), ("2025年", cw25, RED, 1), ("2026年", cw26, YG, 1)], [76, 91], 5, DAY_TICKS[::2], tickvals=list(range(0, 24, 2)), angle=-45)
panel(*RX, 2044, 2115, [("生猪存栏", hog, DRED, 1.4)], [39000, 44000], 1000, HOG_TICKS[::2], tickvals=list(range(0, 10, 2)), angle=0, leg_x=370)
# page 24
panel(*LX, 2255, 2343, [("2023年", semi23, RED, 1.2), ("2024年", semi24, BLK, 1.2), ("2025年", semi25, YG, 1.2), ("2026年", semi26, SLATE, 1.2)], [0, 90], 10, DAY_TICKS[::2], tickvals=list(range(0, 24, 2)), angle=-45)
panel(*RX, 2255, 2343, [("2023年", full23, RED, 1.2), ("2024年", full24, BLK, 1.2), ("2025年", full25, BLUE, 1.2), ("2026年", full26, SLATE, 1.2)], [0, 80], 10, DAY_TICKS[::2], tickvals=list(range(0, 24, 2)), angle=-45)
# page 25
y5 = ["2022", "2023", "2024", "2025", "2026"]
panel(37, 252, 2553, 2665, [("2022", fi22, YEL, 1), ("2023", fi23, "#9a9ab8", 1), ("2024", fi24, BRN, 1), ("2025", fi25, "#f7d070", 1), ("2026", fi26, BRED, 1.3)], [30, 50], 2, MONTHS, tickvals=list(range(0, 24, 2)), angle=0, leg_x=72)
panel(278, 498, 2553, 2665, [("2022", si22, YEL, 1), ("2023", si23, "#9a9ab8", 1), ("2024", si24, BRN, 1), ("2025", si25, "#f7d070", 1), ("2026", si26, BRED, 1.3)], [20, 55], 5, MONTHS, tickvals=list(range(0, 24, 2)), angle=0, leg_x=316)
# page 26
panel(42, 252, 2867, 2928, [("2022", pl22, GRAY, 1), ("2023", pl23, PURP, 1), ("2024", pl24, BRN, 1), ("2025", pl25, YEL, 1), ("2026", pl26, BRED, 1.3)], [60, 100], 5, MONTHS, tickvals=list(range(0, 24, 2)), angle=0, leg_x=72)
panel(283, 498, 2867, 2924, [("2024", ys24, YEL, 1), ("2025", ys25, PURP, 1), ("2026", ys26, BRED, 1.3)], [0, 1.4], 0.2, MONTHS, tickvals=list(range(0, 24, 2)), angle=0, leg_x=345, fmt=".0%")
panel(42, 252, 2970, 3030, [("2022", tx22, GRAY, 1), ("2023", tx23, PURP, 1), ("2024", tx24, BRN, 1), ("2025", tx25, YEL, 1), ("2026", tx26, BRED, 1.3)], [0, 100], 20, MONTHS, tickvals=list(range(0, 24, 2)), angle=0, leg_x=75)
panel(288, 494, 2969, 3032, [("2022", wv22, GRAY, 1), ("2023", wv23, PURP, 1), ("2024", wv24, BRN, 1), ("2025", wv25, YEL, 1), ("2026", wv26, BRED, 1.3)], [0, 100], 20, MONTHS, tickvals=list(range(0, 24, 2)), angle=0, leg_x=318)
# page 27
panel(41, 250, 3165, 3252, [("2022", cpx22, GRAY, 1), ("2023", cpx23, PURP, 1), ("2024", cpx24, BRN, 1), ("2025", cpx25, YEL, 1), ("2026", cpx26, BRED, 1.3)], [50, 95], 5, MONTHS, tickvals=list(range(0, 24, 2)), angle=0, leg_x=72)
panel(286, 496, 3165, 3252, [("2022", apx22, GRAY, 1), ("2023", apx23, PURP, 1), ("2024", apx24, BRN, 1), ("2025", apx25, YEL, 1), ("2026", apx26, BRED, 1.3)], [50, 95], 5, MONTHS, tickvals=list(range(0, 24, 2)), angle=0, leg_x=318)
# page 28
panel(40, 250, 3497, 3587, [("2022", mg22, GRAY, 1), ("2023", mg23, PURP, 1), ("2024", mg24, BRN, 1), ("2025", mg25, YEL, 1), ("2026", mg26, BRED, 1.3)], [40, 85], 5, MONTHS, tickvals=list(range(0, 24, 2)), angle=0, leg_x=72)
panel(279, 494, 3494, 3586, [("2022", cm22, GRAY, 1), ("2023", cm23, PURP, 1), ("2024", cm24, BRN, 1), ("2025", cm25, YEL, 1), ("2026", cm26, BRED, 1.3)], [20, 100], 10, MONTHS, tickvals=list(range(0, 24, 2)), angle=0, leg_x=312)

# ---- page furniture ----
sections = [(32, "一线城市地铁客运量平稳"), (342, "主要二线城市地铁客运量平稳"),
            (650, "受暑期影响，一线城市拥堵延时指数回落"), (960, "受暑期影响，主要二线城市拥堵延时指数回落"),
            (1270, "受暑期影响，国内航班执行数季节性回升"), (1580, "集装箱运价指数处于高位"),
            (1888, "生猪屠宰环比回升"), (2198, "半钢胎开工率平稳"), (2507, "轮胎厂库存情况"),
            (2817, "聚酯开工反弹持续性受阻"), (3109, "PX装置亚洲开工低位反弹，近期重启装置较多"),
            (3436, "MEG装置运行情况")]
for y, s in sections:
    text(20, y, s, size=10, color="#111", bold=True)
    hline(y + 13, color="#c0282d", width=1.6)

footers = [(286, 17), (596, 18), (906, 19), (1215, 20), (1525, 21), (1834, 22), (2143, 23), (2453, 24),
           (2763, 25), (3058, 26), (3348, 27), (3688, 28), (4001, 29), (4311, 30)]
for y, p in footers:
    hline(y, color="#c0282d", width=1.2)
    shapes.append(dict(type="rect", xref="paper", yref="paper", x0=fx(17), x1=fx(29), y0=fy(y + 18), y1=fy(y + 5),
                       fillcolor="#e0302a", line=dict(width=0)))
    text(36, y + 9, "光大期货有限公司", size=6, color="#222", bold=True)
    text(36, y + 15, "EVERBRIGHT FUTURES CO., LTD.", size=3, color="#444")
    text(507, y + 10, "p " + str(p), size=4.5, color="#777", xanchor="right")

titles = [
    (58, "图表：上海地铁客运量（单位：万人）", "图表：北京地铁客运量（单位：万人）"),
    (168, "图表：深圳地铁客运量（单位：万人）", "图表：广州地铁客运量（单位：万人）"),
    (368, "图表：成都地铁客运量（单位：万人）", "图表：南京地铁客运量（单位：万人）"),
    (478, "图表：西安地铁客运量（单位：万人）", "图表：武汉地铁客运量（单位：万人）"),
    (677, "图表：北京拥堵延时指数（单位：点）", "图表：上海拥堵延时指数（单位：点）"),
    (787, "图表：广州拥堵延时指数（单位：点）", "图表：深圳拥堵延时指数（单位：点）"),
    (987, "图表：成都拥堵延时指数（单位：点）", "图表：南京拥堵延时指数（单位：点）"),
    (1097, "图表：西安拥堵延时指数（单位：点）", "图表：武汉拥堵延时指数（单位：点）"),
    (1301, "图表：执行航班数:中国：国内航班（不含港澳台）：周平均（单位：班次）", "图表：顺丰速运快递业务量（单位：亿票）"),
    (1611, "图表：SCFI:综合指数（单位：点）", "图表：SCFIS:欧洲航线(基本港)（单位：点）"),
    (1916, "图表：全国能繁母猪存栏（单位：万头）", "图表：全国：生猪定点屠宰企业屠宰量（单位：万头）"),
    (2025, "图表：宰后均重：白条猪肉(瘦肉型)：山东（单位：公斤）", "图表：全国生猪存栏量（单位：万头）"),
    (2230, "图表：半钢胎开工率（单位：%）", "图表：全钢胎开工率（单位：%）"),
    (2539, "图表：轮胎厂全钢胎库存周转天数（单位：天）", "图表：轮胎厂半钢胎库存周转天数（单位：天）"),
    (2843, "图表：聚酯负荷（%）", "图表：江浙涤丝产销（%，15日移动平均）"),
    (2948, "图表：江浙加弹机开机率（%）", "图表：江浙织机开机率（%）"),
    (3139, "图表：中国PX开工率（%）", "图表：亚洲PX开工率（%）"),
    (3467, "图表：MEG总负荷（%）", "图表：煤制MEG负荷（%）"),
]
for y, lt, rt in titles:
    text(23, y, lt, size=5.5, bold=True)
    text(267, y, rt, size=5.5, bold=True)
    for a, b in [(18, 257), (262, 502)]:
        hline(y - 7, a, b)
        hline(y + 7, a, b)

sources = [(278, "资料来源：iFinD，光大期货研究所", False), (588, "资料来源：iFinD，光大期货研究所", False),
           (897, "资料来源：iFinD，光大期货研究所", False), (1207, "资料来源：iFinD，光大期货研究所", False),
           (1449, "资料来源：iFinD，光大期货研究所", True), (1759, "资料来源：iFinD，光大期货研究所", True),
           (2135, "资料来源：iFinD，光大期货研究所", False), (2378, "资料来源：iFinD，光大期货研究所", True),
           (2687, "资料来源：卓创资讯，光大期货研究所", True), (3051, "资料来源：Wind，光大期货研究所", False),
           (3277, "资料来源：CCF，光大期货研究所", True), (3613, "资料来源：CCF，光大期货研究所", True)]
for y, s, both in sources:
    text(23, y, "<i>" + s + "</i>", size=5, color="#666")
    hline(y - 8, 18, 257)
    hline(y + 8, 18, 257)
    if both:
        text(267, y, "<i>" + s + "</i>", size=5, color="#666")
        hline(y - 8, 262, 502)
        hline(y + 8, 262, 502)

# page 29: analysts
hline(3754, color="#c0282d", width=1.2)
text(19, 3762, "分析师介绍", size=5.5, bold=True)
analysts = [
    "钟美燕，现任光大期货研究所农业交易咨询部团队负责人，上海财经大学硕士，期货从业资格号：F3045334；期货交易咨询资格号：Z0002410。",
    "郭照辰，现任光大期货研究所所长助理兼黑色研究总监，期货从业资格号：F3046854，期货交易咨询资格号：Z0016941。",
    "王娜，光大期货农产品研究总监，负责品种玉米、玉米淀粉及生猪产业链研究，期货从业资格号：F0243534；期货交易咨询资格号：Z0001262。",
    "展大鹏，现任光大期货研究所有色研究总监，理科硕士，贵金属资深研究员，期货从业资格号：F3013795；期货交易咨询资格号：Z0013582。",
    "杜冰沁，现任光大期货研究所能源化工研究总监，期货从业资格号：F3043760；期货交易咨询资格号：Z0015786。",
    "于浩，上海外国语大学金融硕士，现任光大期货宏观分析师，期货从业资格号：F03088671；期货交易咨询资格号：Z0016642。",
    "王璐、邹艺敏对本报告亦有贡献。",
]
for i, s in enumerate(analysts):
    y = 3780 + 18 * i
    text(20, y, "•", size=5)
    text(34, y, s, size=4.8, color="#333")
contact = [(3906, "联系我们"), (3924, "公司地址：中国（上海）自由贸易试验区杨高南路729号陆家嘴世纪金融广场1号楼6楼"),
           (3942, "公司电话：021-80212222　　传真：021-80212200"), (3967, "客服热线：400-700-7979　　邮编：200127")]
for y, s in contact:
    text(19, y, s, size=4.8, color="#333")

# page 30: disclaimer
text(256, 4055, "免责声明", size=11, color="#b02a2a", bold=True, xanchor="center")
hline(4068, color="#c0282d", width=1.6)
disclaimer = ["本报告的信息均来源于公开资料，我公司对这些信息的准确性和完整性不作任何保证，也不",
              "保证所包含的信息和建议不会发生任何变更。我们已力求报告内容的客观、公正，但文中的观点、",
              "结论和建议仅供参考，报告中的信息或意见并不构成所述品种的操作依据，投资者据此做出的任",
              "何投资决策与本公司和作者无关。"]
for i, s in enumerate(disclaimer):
    text(52 if i == 0 else 34, 4123 + 27.5 * i, s, size=9.2, color="#333")

fig.update_layout(width=W, height=H, margin=dict(l=0, r=0, t=0, b=0), paper_bgcolor="white",
                  plot_bgcolor="white", showlegend=True, shapes=shapes, annotations=annos,
                  barmode="group", bargap=0.3, bargroupgap=0.05, font=dict(family=FONT),
                  **axes, **legends)
fig.write_html("out.html")
